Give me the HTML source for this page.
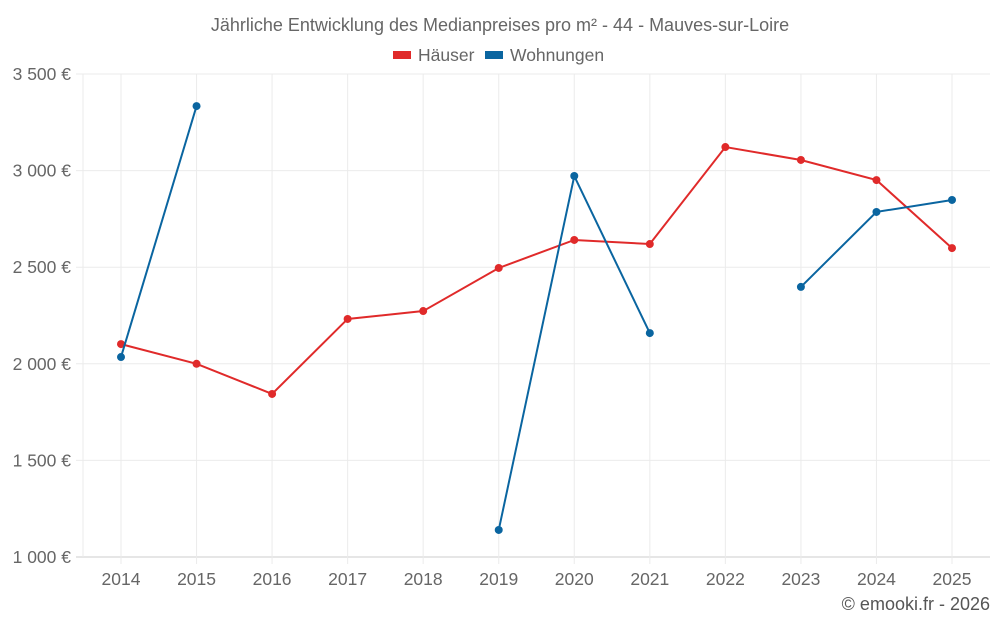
<!DOCTYPE html>
<html><head><meta charset="utf-8">
<style>
body{margin:0;background:#fff;font-family:"Liberation Sans",sans-serif;}
svg text{font-family:"Liberation Sans",sans-serif;}
</style></head>
<body>
<svg id="chart" width="1000" height="625">
<text x="500" y="31" text-anchor="middle" font-size="18" fill="#666">Jährliche Entwicklung des Medianpreises pro m² - 44 - Mauves-sur-Loire</text>
<g>
<g><rect x="393" y="51" width="18" height="8" fill="#e02a2a"/><text x="418" y="61" font-size="17.5" fill="#666">Häuser</text></g>
<g><rect x="485" y="51" width="18" height="8" fill="#0a65a0"/><text x="510" y="61" font-size="17.5" fill="#666">Wohnungen</text></g>
</g>
<g id="grid"></g><g id="series"></g>
<text x="990" y="610" text-anchor="end" font-size="18" fill="#555">© emooki.fr - 2026</text>
</svg>
<script>
const years=[2014,2015,2016,2017,2018,2019,2020,2021,2022,2023,2024,2025];
const haeuser=[2102,2000,1844,2232,2273,2496,2641,2620,3122,3055,2951,2599];
const wohnungen=[2035,3334,null,null,null,1140,2972,2159,null,2398,2786,2848];
const yTicks=[1000,1500,2000,2500,3000,3500];
const yTickLabels=["1 000 €","1 500 €","2 000 €","2 500 €","3 000 €","3 500 €"];
const L=83,R=990,T=74,B=557,x0=121,x1=952;
const NS="http://www.w3.org/2000/svg";
function xs(i){return x0+(x1-x0)*i/(years.length-1);}
function ys(v){return B-(v-1000)/2500*(B-T);}
function mk(tag,attrs,parent){const e=document.createElementNS(NS,tag);for(const k in attrs)e.setAttribute(k,attrs[k]);parent.appendChild(e);return e;}
const g=document.getElementById('grid');
yTicks.forEach((v,i)=>{
 const y=ys(v);
 const l=mk('line',{x1:76,x2:R,y1:y,y2:y,stroke:i==0?'#ccc':'#ebebeb','stroke-width':1},g);
 
 
 const t=mk('text',{x:71,y:y+6,'text-anchor':'end','font-size':17.5,fill:'#666'},g);
 t.textContent=yTickLabels[i];
 
 
});
const ax=mk('line',{x1:L,x2:L,y1:T,y2:B,stroke:'#ebebeb'},g);


years.forEach((yr,i)=>{
 const x=xs(i);
 const l=mk('line',{x1:x,x2:x,y1:T,y2:B+7,stroke:'#ebebeb'},g);
 
 
 const t=mk('text',{x:x,y:585,'text-anchor':'middle','font-size':17.5,fill:'#666'},g);
 t.textContent=yr;
 
 
});
const s=document.getElementById('series');
function draw(data,color,name){
 let d='',pen=false;
 data.forEach((v,i)=>{if(v==null){pen=false;return;}d+=(pen?'L':'M')+xs(i)+' '+ys(v)+' ';pen=true;});
 const p=mk('path',{d:d,fill:'none',stroke:color,'stroke-width':2},s);
 
 
 data.forEach((v,i)=>{if(v==null)return;
  const c=mk('circle',{cx:xs(i),cy:ys(v),r:4,fill:color},s);
  
  
 });
}
draw(haeuser,'#e02a2a','haeuser');
draw(wohnungen,'#0a65a0','wohnungen');
</script>
</body></html>
